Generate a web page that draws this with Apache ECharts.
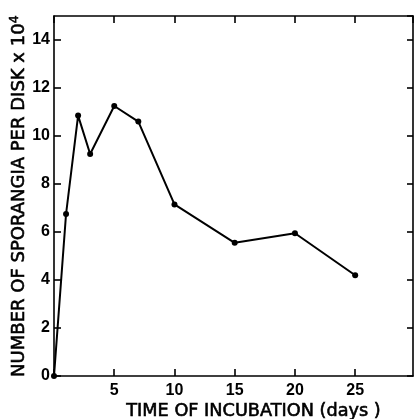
<!DOCTYPE html>
<html>
<head>
<meta charset="utf-8">
<script src="https://cdn.jsdelivr.net/npm/echarts@6/dist/echarts.min.js"></script>
<style>
html,body{margin:0;padding:0;background:#fff;}
#chart{width:414px;height:419px;}
</style>
</head>
<body>
<div id="chart"></div>
<script>
// Data
const days = [0, 1, 2, 3, 5, 7, 10, 15, 20, 25];
const sporangia = [0, 6.75, 10.85, 9.25, 11.25, 10.6, 7.15, 5.55, 5.95, 4.2];
const xTickLabels = [5, 10, 15, 20, 25];
const yTickLabels = [0, 2, 4, 6, 8, 10, 12, 14];
const xTitle = 'TIME OF INCUBATION (days )';
const yTitleMain = 'NUMBER OF SPORANGIA PER DISK x 10';
const yTitleSup = '4';

const points = days.map((d, i) => [d, sporangia[i]]);
const tickFont = {color: '#000', fontFamily: 'Liberation Sans', fontWeight: 'bold', fontSize: 16};
const lineStyle = {color: '#000', width: 1.6};
const titleFont = {color: '#000', fontFamily: 'DejaVu Sans', fontSize: 17.7, textBorderColor: '#000', textBorderWidth: 0.6};
const yTitleFont = Object.assign({}, titleFont, {fontSize: 18});

const chart = echarts.init(document.getElementById('chart'), null, {renderer: 'canvas'});
chart.setOption({
  animation: false,
  backgroundColor: '#fff',
  grid: {left: 54, right: 1, top: 16, bottom: 43, containLabel: false, outerBoundsMode: 'none'},
  xAxis: [{
    type: 'value', min: 0, max: 29.8, interval: 5, position: 'bottom',
    axisLine: {show: true, onZero: false, lineStyle: lineStyle},
    axisTick: {show: true, inside: true, length: 7, lineStyle: lineStyle},
    splitLine: {show: false},
    axisLabel: Object.assign({margin: 7, showMaxLabel: false,
      formatter: v => xTickLabels.indexOf(v) >= 0 ? String(v) : ''}, tickFont),
    name: xTitle, nameLocation: 'middle', nameGap: 26, nameMoveOverlap: false,
    nameTextStyle: Object.assign({padding: [0, 0, 0, 40]}, titleFont)
  }, {
    type: 'value', min: 0, max: 29.8, interval: 5, position: 'top',
    axisLine: {show: true, onZero: false, lineStyle: lineStyle},
    axisTick: {show: true, inside: true, length: 7, lineStyle: lineStyle},
    splitLine: {show: false}, axisLabel: {show: false}
  }],
  yAxis: [{
    type: 'value', min: 0, max: 15, interval: 2, position: 'left',
    axisLine: {show: true, onZero: false, lineStyle: lineStyle},
    axisTick: {show: true, inside: true, length: 7, lineStyle: lineStyle},
    splitLine: {show: false},
    axisLabel: Object.assign({margin: 4, showMaxLabel: false,
      formatter: v => yTickLabels.indexOf(v) >= 0 ? String(v) : ''}, tickFont),
    name: '{a|' + yTitleMain + '}{s|' + yTitleSup + '}',
    nameLocation: 'middle', nameRotate: 90, nameGap: 24, nameMoveOverlap: false,
    nameTextStyle: {
      rich: {
        a: yTitleFont,
        s: {color: '#000', fontFamily: 'DejaVu Sans', fontSize: 13, textBorderColor: '#000', textBorderWidth: 0.5, padding: [0, 0, 9, 0]}
      }
    }
  }, {
    type: 'value', min: 0, max: 15, interval: 2, position: 'right',
    axisLine: {show: true, onZero: false, lineStyle: lineStyle},
    axisTick: {show: true, inside: true, length: 6, lineStyle: lineStyle},
    splitLine: {show: false}, axisLabel: {show: false}
  }],
  series: [{
    type: 'line',
    xAxisIndex: 0, yAxisIndex: 0,
    data: points,
    symbol: 'circle', symbolSize: 6,
    lineStyle: {color: '#000', width: 2},
    itemStyle: {color: '#000'},
    z: 5
  }]
});
</script>
</body>
</html>
